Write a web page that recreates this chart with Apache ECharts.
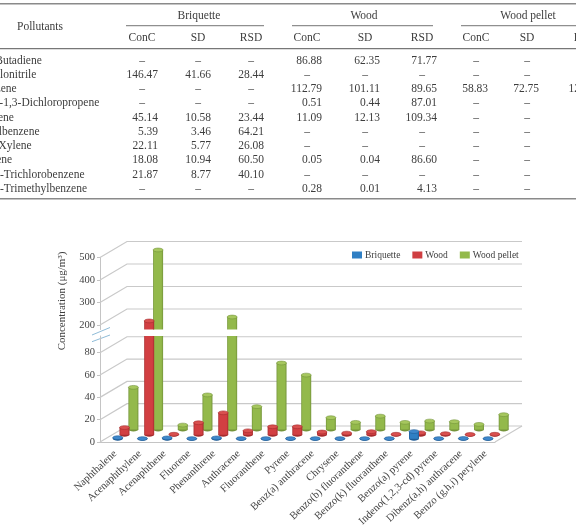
<!DOCTYPE html>
<html>
<head>
<meta charset="utf-8">
<style>html,body{margin:0;padding:0;background:#fff}#c{width:576px;height:527px}</style>
<script src="https://cdn.jsdelivr.net/npm/echarts@6/dist/echarts.min.js"></script>
</head>
<body>
<div id="c"></div>
<script>
// Table of volatile pollutants
const pollutants = ['1,3-Butadiene','Acrylonitrile','Benzene','trans-1,3-Dichloropropene','Toluene','Ethylbenzene','m,p-Xylene','Styrene','1,2,4-Trichlorobenzene','1,3,5-Trimethylbenzene'];
const D = '–';
const briquetteConc = [D,'146.47',D,D,'45.14','5.39','22.11','18.08','21.87',D];
const briquetteSd   = [D,'41.66',D,D,'10.58','3.46','5.77','10.94','8.77',D];
const briquetteRsd  = [D,'28.44',D,D,'23.44','64.21','26.08','60.50','40.10',D];
const woodConc = ['86.88',D,'112.79','0.51','11.09',D,D,'0.05',D,'0.28'];
const woodSd   = ['62.35',D,'101.11','0.44','12.13',D,D,'0.04',D,'0.01'];
const woodRsd  = ['71.77',D,'89.65','87.01','109.34',D,D,'86.60',D,'4.13'];
const pelletConc = [D,D,'58.83',D,D,D,D,D,D,D];
const pelletSd   = [D,D,'72.75',D,D,D,D,D,D,D];
const pelletRsd  = [D,D,'123.66',D,D,D,D,D,D,D];
const groupNames = ['Briquette','Wood','Wood pellet'];
const columnNames = ['ConC','SD','RSD'];

// Bar chart of polycyclic aromatic hydrocarbons
const compounds = ['Naphthalene','Acenaphthylene','Acenaphthene','Fluorene','Phenanthrene','Anthracene','Fluoranthene','Pyrene','Benz(a) anthracene','Chrysene','Benzo(b) fluoranthene','Benzo(k) fluoranthene','Benzo(a) pyrene','Indeno(1,2,3-cd) pyrene','Dibenz(a,h) anthracene','Benzo (g,h,i) perylene'];
const briquette = [1.0,0.2,0.8,0.2,0.8,0.2,0.2,0.2,0.2,0.2,0.2,0.2,6.5,0.2,0.3,0.2];
const wood = [6.5,186,0.5,10.8,19.7,3.6,7.2,7.2,2.5,1.5,2.8,0.5,1.8,1,0.3,0.5];
const pellet = [37.8,478,4,31,180,20.5,59.6,48.8,10.6,6.4,12,6.4,7.6,7,4.6,13.3];
const lowerTicks = [0,20,40,60,80];
const upperTicks = [200,300,400,500];

// Table layout
const serif = '"Liberation Serif","Times New Roman",serif';
const tableFont = '11.5px ' + serif;
const ink = '#3d3d3d';
const rowY0 = 60.5, rowStep = 14.25;
const columns = [
  {v: briquetteConc, right: 158, mid: 142},
  {v: briquetteSd,   right: 211, mid: 198},
  {v: briquetteRsd,  right: 264, mid: 251},
  {v: woodConc, right: 322, mid: 307},
  {v: woodSd,   right: 380, mid: 365},
  {v: woodRsd,  right: 437, mid: 422},
  {v: pelletConc, right: 488, mid: 476},
  {v: pelletSd,   right: 539, mid: 527},
  {v: pelletRsd,  right: 600, mid: 585}
];
function text(x, y, s, align, font) {
  return {type:'text', silent:true, style:{x:x, y:y, text:s, font:font||tableFont, fill:ink, align:align||'center', verticalAlign:'middle'}};
}
function rule(x1, x2, y, w, c) {
  return {type:'line', silent:true, shape:{x1:x1,y1:y,x2:x2,y2:y}, style:{stroke:c,lineWidth:w}};
}
const tableParts = [
  rule(0,576,3.7,1.5,'#8a8a8a'), rule(126,264,25.7,1.2,'#8f8f8f'), rule(292,433,25.7,1.2,'#8f8f8f'),
  rule(461,576,25.7,1.2,'#8f8f8f'), rule(0,576,48.7,1.2,'#777'), rule(0,576,198.7,1.5,'#8a8a8a'),
  text(40,26.7,'Pollutants'), text(199,15.5,groupNames[0]), text(364,15.5,groupNames[1]), text(528,15.5,groupNames[2])
];
columns.forEach((c, k) => {
  tableParts.push(text(c.mid, 37.5, columnNames[k % 3]));
  c.v.forEach((s, r) => {
    const y = rowY0 + r * rowStep;
    tableParts.push(s === D ? text(c.mid, y, s) : text(c.right, y, s, 'right'));
  });
});
pollutants.forEach((s, r) => tableParts.push(text(-23, rowY0 + r * rowStep, s, 'left')));

// Bar chart layout
const lowerMax = 95, upperMin = 180;
const depthX = 27, depthY = -16;
const barHalf = 5, capRy = 1.9;
function shade(edge, mid) {
  return new echarts.graphic.LinearGradient(0,0,1,0,[{offset:0,color:edge},{offset:.14,color:mid},{offset:.82,color:mid},{offset:1,color:edge}]);
}
const looks = {
  Briquette:    {depth:.2,  body:shade('#1f5c96','#2f7fc4'), cap:'#3f88cc', line:'#1f5c96', color:'#2f7fc4'},
  Wood:         {depth:.45, body:shade('#a52c2e','#d23f42'), cap:'#d9504f', line:'#a52c2e', color:'#cf3f42'},
  'Wood pellet':{depth:.78, body:shade('#74943a','#93b94b'), cap:'#a6c75e', line:'#74943a', color:'#93b94b'}
};
function barRenderer(name, part) {
  const L = looks[name];
  return function (params, api) {
    const i = api.value(0), v = api.value(1);
    const isUpper = part === 'upper';
    if (isUpper && v <= lowerMax) return null;
    const dx = depthX * L.depth, dy = depthY * L.depth;
    const x = api.coord([i, isUpper ? upperMin : 0])[0] + dx;
    const edge = api.coord([i, isUpper ? upperMin : lowerMax])[1];
    const cut = !isUpper && v > lowerMax;
    const bottom = isUpper ? edge : api.coord([i, 0])[1] + dy;
    const top = cut ? edge : api.coord([i, v])[1] + dy;
    const kids = [{type:'rect', shape:{x:x-barHalf, y:top, width:barHalf*2, height:Math.max(bottom-top,0)}, style:{fill:L.body}}];
    if (!isUpper) kids.unshift({type:'ellipse', shape:{cx:x, cy:bottom, rx:barHalf, ry:capRy}, style:{fill:L.line}});
    if (!cut) kids.push({type:'ellipse', shape:{cx:x, cy:top, rx:barHalf, ry:capRy}, style:{fill:L.cap, stroke:L.line, lineWidth:.6}});
    return {type:'group', children:kids};
  };
}
function wallRenderer(params, api) {
  const t = api.value(1);
  const band = api.size([1,0])[0];
  const p = api.coord([0, t]);
  const end = api.coord([compounds.length - 1, t]);
  const x0 = p[0] - band/2, x1 = end[0] + band/2;
  const y = p[1];
  const style = {stroke:'#c9c9c9', lineWidth:1.2, fill:null};
  const kids = [{type:'polyline', shape:{points:[[x0,y],[x0+depthX,y+depthY],[x1+depthX,y+depthY]]}, style:style}];
  if (t === 0) kids.push({type:'line', shape:{x1:x1,y1:y,x2:x1+depthX,y2:y+depthY}, style:style});
  return {type:'group', children:kids};
}
function asPairs(values) { return values.map((v, i) => [i, v]); }
function wallSeries(ticks, idx) {
  return {type:'custom', xAxisIndex:idx, yAxisIndex:idx, silent:true, renderItem:wallRenderer, data:ticks.map(t => [0, t]), encode:{x:0,y:1}, z:1};
}
function barSeries(name, values, idx, part, z) {
  return {type:'custom', name:name, xAxisIndex:idx, yAxisIndex:idx, silent:true, renderItem:barRenderer(name, part),
    data:asPairs(values), encode:{x:0,y:1}, z:z, itemStyle:{color:looks[name].color}};
}

const axisGrey = '#c4c4c4';
const chart = echarts.init(document.getElementById('c'), null, {renderer:'canvas'});
chart.setOption({
  animation:false,
  backgroundColor:'#fff',
  legend:{
    left:347, top:245, itemWidth:10, itemHeight:7, itemGap:12, icon:'rect',
    data:groupNames, selectedMode:false,
    textStyle:{fontFamily:serif, fontSize:9.5, color:ink, padding:[0,0,0,-2]}
  },
  grid:[
    {left:100, width:395, top:336, height:106, outerBoundsMode:'none'},
    {left:100, width:395, top:257.5, height:72, outerBoundsMode:'none'}
  ],
  xAxis:[
    {gridIndex:0, type:'category', data:compounds,
      axisLine:{lineStyle:{color:axisGrey}}, axisTick:{length:3, lineStyle:{color:axisGrey}},
      axisLabel:{interval:0, rotate:43, margin:13, padding:[0,-4,0,0], fontFamily:serif, fontSize:10.7, color:'#444', hideOverlap:false}},
    {gridIndex:1, type:'category', data:compounds, show:false}
  ],
  yAxis:[
    {gridIndex:0, type:'value', min:0, max:lowerMax, splitLine:{show:false},
      axisLine:{show:true, lineStyle:{color:axisGrey}},
      axisTick:{show:true, length:3, customValues:lowerTicks, lineStyle:{color:axisGrey}},
      axisLabel:{customValues:lowerTicks, margin:5, fontFamily:serif, fontSize:10.5, color:'#444'}},
    {gridIndex:1, type:'value', min:upperMin, max:500, splitLine:{show:false},
      axisLine:{show:true, lineStyle:{color:axisGrey}},
      axisTick:{show:true, length:3, customValues:upperTicks, lineStyle:{color:axisGrey}},
      axisLabel:{customValues:upperTicks, margin:5, fontFamily:serif, fontSize:10.5, color:'#444'}}
  ],
  series:[
    wallSeries(lowerTicks, 0),
    wallSeries(upperTicks, 1),
    barSeries('Wood pellet', pellet, 0, 'lower', 2),
    barSeries('Wood pellet', pellet, 1, 'upper', 2),
    barSeries('Wood', wood, 0, 'lower', 3),
    barSeries('Wood', wood, 1, 'upper', 3),
    barSeries('Briquette', briquette, 0, 'lower', 4),
    barSeries('Briquette', briquette, 1, 'upper', 4)
  ],
  graphic:{elements:tableParts.concat([
    {type:'line', silent:true, shape:{x1:92,y1:335,x2:110,y2:327.5}, style:{stroke:'#8fbcd8',lineWidth:1}},
    {type:'line', silent:true, shape:{x1:92,y1:341.7,x2:110,y2:335}, style:{stroke:'#8fbcd8',lineWidth:1}},
    {type:'text', silent:true, rotation:Math.PI/2, x:62, y:301,
      style:{x:0, y:0, text:'Concentration (μg/m³)', font:'11px '+serif, fill:ink, align:'center', verticalAlign:'middle'}}
  ])}
});
</script>
</body>
</html>
